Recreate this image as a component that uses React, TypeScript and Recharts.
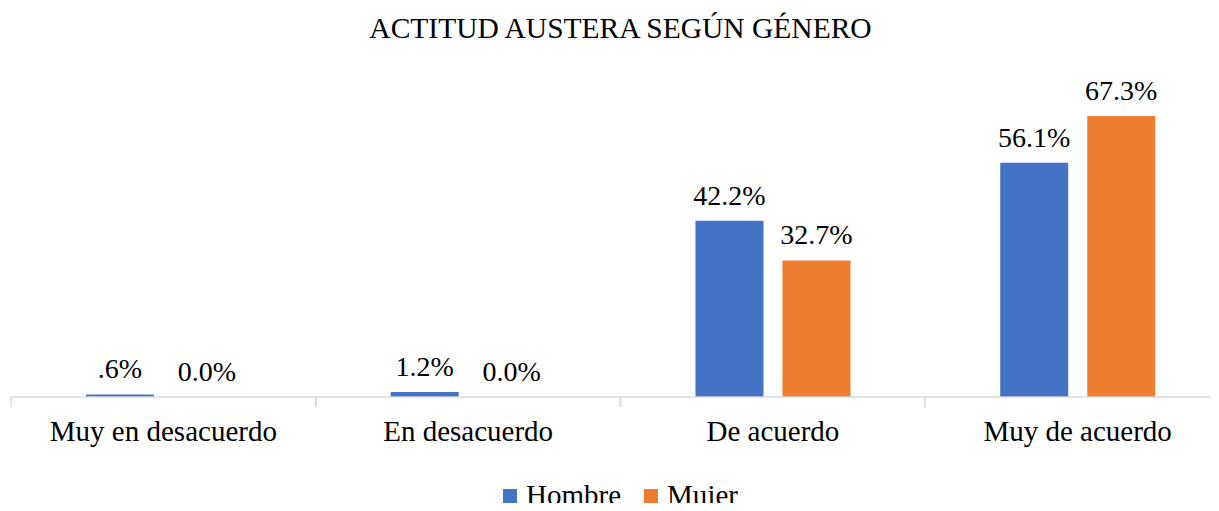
import { BarChart, Bar, XAxis, YAxis, Legend, LabelList } from "recharts"

const categories = ["Muy en desacuerdo", "En desacuerdo", "De acuerdo", "Muy de acuerdo"]
const hombre = [0.6, 1.2, 42.2, 56.1]
const mujer = [0.0, 0.0, 32.7, 67.3]

const data = categories.map((name, i) => ({ name, Hombre: hombre[i], Mujer: mujer[i] }))

const FONT = "'Liberation Serif', 'Times New Roman', serif"

const fmt = (v: number) => {
  const s = Number(v).toFixed(1)
  return v > 0 && v < 1 ? s.replace(/^0/, "") + "%" : s + "%"
}

// category label plus Excel-style tick marks on the category boundaries
const CategoryTick = (props: any) => {
  const { x, y, payload } = props
  const half = payload.offset || 0
  return (
    <g>
      <line x1={x - half} x2={x - half} y1={y} y2={y + 10} stroke="#D9D9D9" strokeWidth={1.5} />
      <line x1={x + half} x2={x + half} y1={y} y2={y + 10} stroke="#D9D9D9" strokeWidth={1.5} />
      <text x={x} y={y + 44} textAnchor="middle" fill="#000" fontSize={29} fontFamily={FONT}>
        {payload.value}
      </text>
    </g>
  )
}

const LegendContent = (props: any) => {
  const { payload } = props
  return (
    <div style={{ display: "flex", justifyContent: "center", gap: 23, fontSize: 29, fontFamily: FONT, color: "#000", lineHeight: "34px" }}>
      {(payload || []).map((p: any) => (
        <div key={p.value} style={{ display: "flex", alignItems: "center" }}>
          <span style={{ display: "inline-block", width: 14, height: 14, background: p.color, marginRight: 9, marginTop: 2 }} />
          <span>{p.value}</span>
        </div>
      ))}
    </div>
  )
}

export default function App() {
  return (
    <div style={{ position: "relative", width: 1219, height: 511, overflow: "hidden", margin: -8, fontFamily: FONT }}>
      <div
        style={{
          position: "absolute",
          top: 12,
          left: 11,
          width: 1219,
          textAlign: "center",
          fontSize: 29.5,
          color: "#000",
        }}
      >
        ACTITUD AUSTERA SEGÚN GÉNERO
      </div>
      <BarChart
        width={1230}
        height={511}
        data={data}
        margin={{ top: 63, right: 0, left: 11, bottom: 10 }}
        barCategoryGap="24.6%"
        barGap={19}
      >
        <XAxis
          dataKey="name"
          height={70}
          axisLine={{ stroke: "#D9D9D9", strokeWidth: 1.5 }}
          tickLine={false}
          tickSize={0}
          tickMargin={0}
          interval={0}
          tick={<CategoryTick />}
        />
        <YAxis hide domain={[0, 80]} />
        <Legend
          verticalAlign="bottom"
          content={<LegendContent />}
          wrapperStyle={{ top: 478, bottom: "auto", height: 34, overflow: "visible" }}
        />
        <Bar dataKey="Hombre" fill="#4472C4" minPointSize={0.01} isAnimationActive={false}>
          <LabelList dataKey="Hombre" position="top" offset={16} formatter={fmt} style={{ fill: "#000", fontSize: 28, fontFamily: FONT }} />
        </Bar>
        <Bar dataKey="Mujer" fill="#ED7D31" minPointSize={0.01} isAnimationActive={false}>
          <LabelList dataKey="Mujer" position="top" offset={16} formatter={fmt} style={{ fill: "#000", fontSize: 28, fontFamily: FONT }} />
        </Bar>
      </BarChart>
    </div>
  )
}
